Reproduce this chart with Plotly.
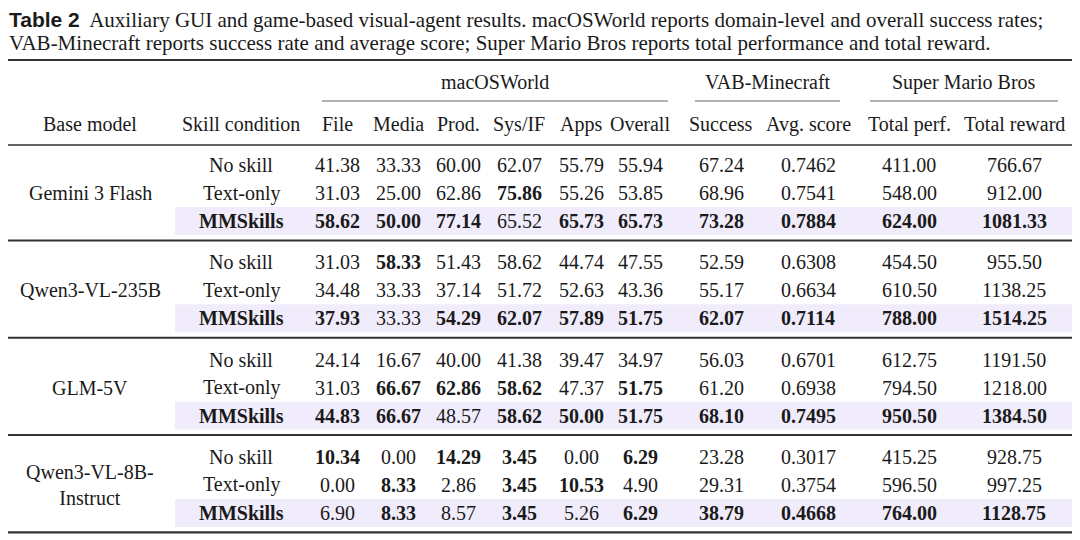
import plotly.graph_objects as go

# %% data
models = ["Gemini 3 Flash", "Qwen3-VL-235B", "GLM-5V", "Qwen3-VL-8B-<br>Instruct"]
conditions = ["No skill", "Text-only", "MMSkills"]
groups = ["macOSWorld", "VAB-Minecraft", "Super Mario Bros"]
columns = ["File", "Media", "Prod.", "Sys/IF", "Apps", "Overall",
           "Success", "Avg. score", "Total perf.", "Total reward"]
col_fmt = ["{:.2f}"] * 7 + ["{:.4f}", "{:.2f}", "{:.2f}"]

gemini = [
    [41.38, 33.33, 60.00, 62.07, 55.79, 55.94, 67.24, 0.7462, 411.00, 766.67],
    [31.03, 25.00, 62.86, 75.86, 55.26, 53.85, 68.96, 0.7541, 548.00, 912.00],
    [58.62, 50.00, 77.14, 65.52, 65.73, 65.73, 73.28, 0.7884, 624.00, 1081.33],
]
qwen_235b = [
    [31.03, 58.33, 51.43, 58.62, 44.74, 47.55, 52.59, 0.6308, 454.50, 955.50],
    [34.48, 33.33, 37.14, 51.72, 52.63, 43.36, 55.17, 0.6634, 610.50, 1138.25],
    [37.93, 33.33, 54.29, 62.07, 57.89, 51.75, 62.07, 0.7114, 788.00, 1514.25],
]
glm_5v = [
    [24.14, 16.67, 40.00, 41.38, 39.47, 34.97, 56.03, 0.6701, 612.75, 1191.50],
    [31.03, 66.67, 62.86, 58.62, 47.37, 51.75, 61.20, 0.6938, 794.50, 1218.00],
    [44.83, 66.67, 48.57, 58.62, 50.00, 51.75, 68.10, 0.7495, 950.50, 1384.50],
]
qwen_8b = [
    [10.34, 0.00, 14.29, 3.45, 0.00, 6.29, 23.28, 0.3017, 415.25, 928.75],
    [0.00, 8.33, 2.86, 3.45, 10.53, 4.90, 29.31, 0.3754, 596.50, 997.25],
    [6.90, 8.33, 8.57, 3.45, 5.26, 6.29, 38.79, 0.4668, 764.00, 1128.75],
]
results = [gemini, qwen_235b, glm_5v, qwen_8b]

caption_1 = ("Auxiliary GUI and game-based visual-agent results. macOSWorld reports "
             "domain-level and overall success rates;")
caption_2 = ("VAB-Minecraft reports success rate and average score; Super Mario Bros "
             "reports total performance and total reward.")

# %% layout bits
SERIF = "Liberation Serif"
SANS = "Liberation Sans"
FS = 20
CAP_FS = 21
INK = "#1a1a1a"
RULE = "#333333"
HILITE = "#f1ecfb"

x_left, x_right = 8, 1073
x_model, x_cond = 90, 241
col_x = [337, 398, 458, 519, 581, 640, 721, 808, 909, 1014]
cmid = [(322, 668), (695, 840), (870, 1058)]
y_top, y_grp, y_cmid, y_head, y_mid = 60, 82, 101, 124, 145
row0, row_step, grp_step = 165, 28, 97.3

fig = go.Figure()
shapes = []
ann = []


def text(x, y, s, size=FS, anchor="center", font=SERIF):
    ann.append(dict(x=x, y=y, xref="x", yref="y", text=s, showarrow=False,
                    xanchor=anchor, yanchor="middle", borderpad=0,
                    font=dict(family=font, size=size, color=INK)))


def hline(x0, x1, y, w, color=RULE):
    shapes.append(dict(type="line", xref="x", yref="y", x0=x0, x1=x1, y0=y, y1=y,
                       line=dict(color=color, width=w)))


# caption, one annotation per line
text(x_left, 19.5, f'<span style="font-family:{SANS}"><b>Table 2</b></span>  {caption_1}',
     size=CAP_FS, anchor="left")
text(x_left, 43, caption_2, size=CAP_FS, anchor="left")

# header
hline(x_left, x_right, y_top, 2.2)
for g, (c0, c1) in zip(groups, cmid):
    text((c0 + c1) / 2, y_grp, g)
    hline(c0, c1, y_cmid, 1.2, "#666666")
text(x_model, y_head, "Base model")
text(x_cond, y_head, "Skill condition")
for x, c in zip(col_x, columns):
    text(x, y_head, c)
hline(x_left, x_right, y_mid, 1.6)

# body
for gi, (model, block) in enumerate(zip(models, results)):
    yg = row0 + gi * grp_step
    best = [max(r[j] for r in block) for j in range(len(columns))]
    # highlight MMSkills row
    yh = yg + 2 * row_step
    shapes.append(dict(type="rect", xref="x", yref="y", x0=175, x1=x_right,
                       y0=yh - 14, y1=yh + 14, fillcolor=HILITE,
                       line=dict(width=0), layer="below"))
    text(x_model, yg + row_step, model)
    for ri, (cond, row) in enumerate(zip(conditions, block)):
        y = yg + ri * row_step
        label = f"<b>{cond}</b>" if cond == "MMSkills" else cond
        text(x_cond, y, label)
        for j, v in enumerate(row):
            s = col_fmt[j].format(v)
            if v == best[j]:
                s = f"<b>{s}</b>"
            text(col_x[j], y, s)
    y_sep = yg + 2 * row_step + 19.5
    hline(x_left, x_right, y_sep, 2.2 if gi == len(models) - 1 else 2)

# page body has an 8px margin, so shift the axes to compensate
fig.update_layout(
    width=1080, height=540,
    margin=dict(l=0, r=0, t=0, b=0),
    paper_bgcolor="white", plot_bgcolor="white",
    xaxis=dict(range=[8, 1088], visible=False, fixedrange=True),
    yaxis=dict(range=[548, 8], visible=False, fixedrange=True),
    shapes=shapes, annotations=ann, showlegend=False,
)
fig.write_html("out.html")
